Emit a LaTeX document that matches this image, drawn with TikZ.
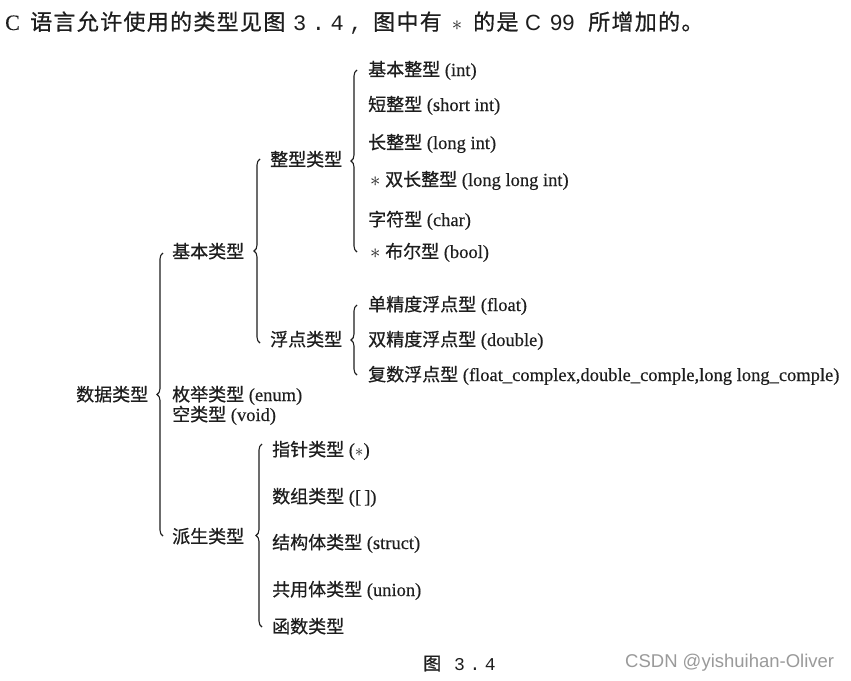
\documentclass[tikz,border=0pt]{standalone}
\usepackage{fontspec}
\setmainfont{Liberation Serif}[FakeBold=0.3]
\newfontfamily\cjk{Noto Sans CJK SC}[FakeBold=0.6]
\newfontfamily\cjkcap{Noto Sans CJK SC}[FakeBold=0.6, LetterSpace=6]
\newfontfamily\capmono{Liberation Mono}[LetterSpace=25]
\newfontfamily\capsans{Liberation Sans}
\newfontfamily\wmfont{Liberation Sans}
\usetikzlibrary{decorations.pathreplacing}
\newcommand\zs{\fontsize{18}{20}\selectfont}
\newcommand\zh[1]{{\cjk\zs #1}}
\newcommand\seg[2]{\makebox[#1pt][l]{#2}}
\newcommand\bigstar{{\fontsize{21}{20}\selectfont$*$}}
\definecolor{ink}{HTML}{1E1E1E}
\definecolor{wm}{HTML}{9A9A9A}
\begin{document}
\begin{tikzpicture}[x=1pt,y=-1pt,
  lbl/.style={anchor=base west, inner sep=0pt, text=ink, font=\fontsize{18.5}{20}\selectfont},
  captext/.style={anchor=base west, inner sep=0pt, text=ink, font=\fontsize{22}{24}\selectfont},
  brc/.style={decorate, decoration={brace, amplitude=6pt, aspect=0.5}, draw=ink, line width=1.1pt}]
\useasboundingbox (0,0) rectangle (851,680);
\fill[white] (0,0) rectangle (851,680);

% caption
\node[captext] (caption) at (5,30) {\seg{25}{C}\seg{263}{\cjkcap 语言允许使用的类型见图}\seg{80}{\capmono 3.4,}\seg{75}{\cjkcap 图中有}\seg{25}{\,$*$}\seg{52}{\cjkcap 的是}\seg{25}{\capsans C}\seg{38}{\capsans 99}{\cjkcap 所增加的。}};

% level 0
\node[lbl] (data) at (76,401) {\zh{数据类型}};
% level 1
\node[lbl] (basic) at (172,258) {\zh{基本类型}};
\node[lbl] (enum) at (172,401) {\zh{枚举类型}~(enum)};
\node[lbl] (void) at (172,421) {\zh{空类型}~(void)};
\node[lbl] (derived) at (172,543) {\zh{派生类型}};
% level 2
\node[lbl] (int) at (270,166) {\zh{整型类型}};
\node[lbl] (flt) at (270,346) {\zh{浮点类型}};
% integer types
\node[lbl] (i1) at (368,76) {\zh{基本整型}~(int)};
\node[lbl] (i2) at (368,111) {\zh{短整型}~(short int)};
\node[lbl] (i3) at (368,149) {\zh{长整型}~(long int)};
\node[lbl] (i4) at (370,186) {\bigstar~\zh{双长整型}~(long long int)};
\node[lbl] (i5) at (368,226) {\zh{字符型}~(char)};
\node[lbl] (i6) at (370,258) {\bigstar~\zh{布尔型}~(bool)};
% float types
\node[lbl] (f1) at (368,311) {\zh{单精度浮点型}~(float)};
\node[lbl] (f2) at (368,346) {\zh{双精度浮点型}~(double)};
\node[lbl] (f3) at (368,381) {\zh{复数浮点型}~(float\_complex,double\_comple,long long\_comple)};
% derived types
\node[lbl] (d1) at (272,456) {\zh{指针类型}~($*$)};
\node[lbl] (d2) at (272,503) {\zh{数组类型}~([\,])};
\node[lbl] (d3) at (272,549) {\zh{结构体类型}~(struct)};
\node[lbl] (d4) at (272,596) {\zh{共用体类型}~(union)};
\node[lbl] (d5) at (272,633) {\zh{函数类型}};

% figure label and watermark
\node[lbl] (fig) at (423,670) {\zh{图}\hspace{13pt}{\capmono\fontsize{18}{20}\selectfont 3.4}};
\node[anchor=base west, inner sep=0pt, text=wm, font=\wmfont\fontsize{18.5}{20}\selectfont] (mark) at (625,667) {CSDN @yishuihan-Oliver};

% brace end points
\coordinate (b0t) at (163,253); \coordinate (b0b) at (163,536);
\coordinate (b1t) at (260,159); \coordinate (b1b) at (260,343);
\coordinate (b2t) at (357,70);  \coordinate (b2b) at (357,252);
\coordinate (b3t) at (357,305); \coordinate (b3b) at (357,375);
\coordinate (b4t) at (262,444); \coordinate (b4b) at (262,627);

\draw[brc] (b0b) -- (b0t);
\draw[brc] (b1b) -- (b1t);
\draw[brc] (b2b) -- (b2t);
\draw[brc] (b3b) -- (b3t);
\draw[brc] (b4b) -- (b4t);
\end{tikzpicture}
\end{document}
